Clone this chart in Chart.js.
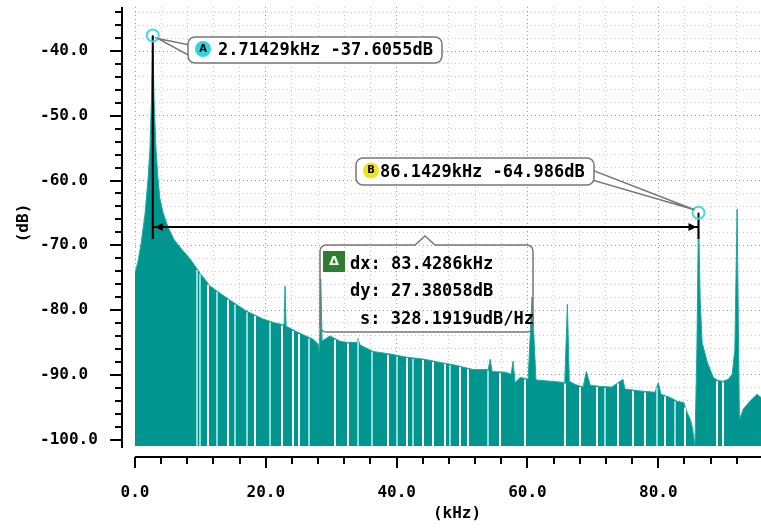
<!DOCTYPE html>
<html>
<head>
<meta charset="utf-8">
<script src="https://cdn.jsdelivr.net/npm/chart.js@4.4.1/dist/chart.umd.min.js"></script>
<style>
  html, body { margin: 0; padding: 0; background: #fff; }
</style>
</head>
<body>
<canvas id="fftChart" width="761" height="529"></canvas>
<script>
// spectrum envelope (kHz / dB)
const freqKHz = [0, 0.46, 0.92, 1.53, 1.99, 2.29, 2.52, 2.71429, 2.91, 3.21, 3.52, 3.82, 4.28, 5.05, 5.96, 6.88,
  8.41, 9.94, 11.47, 13.0, 15.0, 17.1, 19.6, 21.4, 22.8, 22.94, 23.1, 24.8, 27.2, 28.0, 28.2, 28.4, 28.6, 29.8,
  31.3, 32.4, 33.9, 34.1, 34.4, 36.4, 39.0, 41.6, 44.3, 46.6, 48.9, 51.7, 54.0, 54.3, 54.6, 56.6, 57.5, 57.8,
  58.1, 58.9, 60.1, 60.7, 61.3, 63.5, 65.7, 66.1, 66.4, 67.3, 68.5, 69.0, 69.6, 71.1, 72.9, 74.6, 74.9, 77.2,
  79.5, 80.0, 80.4, 81.8, 82.9, 83.9, 84.4, 84.9, 85.2, 85.6, 85.9, 86.1429, 86.4, 86.7, 87.5, 88.4, 89.1, 89.9,
  90.7, 91.3, 91.7, 92.05, 92.4, 93.0, 94.0, 95.1, 95.7];
const levelDB = [-74.3, -72.5, -69.8, -65.2, -59.8, -55.1, -47.4, -37.6055, -47.4, -55.1, -59.8, -62.9, -64.9, -67.2, -69.1, -70.3,
  -72.1, -74.3, -76.3, -77.4, -78.8, -80.2, -81.4, -82.0, -82.3, -76.3, -82.5, -83.4, -84.5, -85.3, -86.5, -75.2, -84.8, -84.0,
  -84.8, -85.0, -85.0, -84.4, -85.4, -86.4, -86.8, -87.3, -87.6, -88.1, -88.5, -89.2, -89.2, -87.6, -89.5, -89.6, -89.9, -87.9,
  -91.2, -90.4, -90.7, -78.0, -90.8, -91.0, -91.2, -79.1, -91.0, -91.5, -91.9, -89.5, -91.6, -91.8, -91.9, -90.7, -92.2, -92.5,
  -92.7, -91.2, -93.0, -93.5, -94.1, -94.3, -95.8, -96.9, -98.1, -101, -86.0, -64.986, -78.3, -85.0, -88.1, -90.4, -90.9, -91.0,
  -90.7, -89.9, -86.1, -64.4, -96.9, -95.3, -94.1, -93.0, -93.5];

// thin gaps in the filled trace (white and pale ones), kHz
const whiteGapKHz = [11.2, 14.2, 18.3, 22.5, 24.2, 25.1, 30.6, 32.6, 38.7, 41.6, 44.0, 45.6, 47.4, 49.7, 50.9, 55.8,
  59.6, 65.7, 68.0, 70.6, 73.9, 76.1, 78.0, 81.0, 84.1, 89.0, 89.9];
const paleGapKHz = [9.5, 9.9, 12.5, 15.3, 17.1, 20.6, 26.6, 34.1, 36.2, 40.1, 42.5, 48.2, 54.0, 71.9, 79.8, 82.6];

// markers A and B
const markerNames = ['A', 'B'];
const markerFreq = [2.71429, 86.1429];
const markerLevel = [-37.6055, -64.986];
const markerText = ['2.71429kHz -37.6055dB', '86.1429kHz -64.986dB'];
const deltaText = ['dx: 83.4286kHz', 'dy: 27.38058dB', 's: 328.1919udB/Hz'];

// axes
const xRange = [0, 95.7];
const yRange = [-101, -33.2];
const xStep = 4, xLabelStep = 20;
const yStep = 2, yLabelStep = 10;

const teal = '#00968f';
const monoFont = 'DejaVu Sans Mono';

// level of the trace at f (for the gap lines only)
const levelAt = f => {
  for (let i = 1; i < freqKHz.length; i++) {
    if (f <= freqKHz[i]) {
      const t = (f - freqKHz[i - 1]) / (freqKHz[i] - freqKHz[i - 1]);
      return levelDB[i - 1] + t * (levelDB[i] - levelDB[i - 1]);
    }
  }
  return levelDB[levelDB.length - 1];
};

const gaps = {
  id: 'gaps',
  afterDatasetsDraw(chart) {
    const { ctx, chartArea: a, scales: { x, y } } = chart;
    ctx.save();
    ctx.lineWidth = 2;
    [[whiteGapKHz, '#ffffff'], [paleGapKHz, '#8fdcd6']].forEach(([list, col]) => {
      ctx.strokeStyle = col;
      list.forEach(f => {
        const px = Math.round(x.getPixelForValue(f));
        ctx.beginPath();
        ctx.moveTo(px, a.bottom);
        ctx.lineTo(px, y.getPixelForValue(levelAt(f)) + 1);
        ctx.stroke();
      });
    });
    ctx.restore();
  }
};

const overlay = {
  id: 'overlay',
  afterDraw(chart) {
    const { ctx, chartArea: area, scales: { x, y } } = chart;
    const yAxisX = area.left - 13, xAxisY = area.bottom + 11;
    ctx.save();

    // offset axis lines + ticks
    ctx.strokeStyle = '#000';
    ctx.lineWidth = 2;
    ctx.beginPath();
    ctx.moveTo(yAxisX, area.top);
    ctx.lineTo(yAxisX, area.bottom + 2);
    ctx.moveTo(area.left, xAxisY);
    ctx.lineTo(area.right, xAxisY);
    ctx.stroke();
    y.ticks.forEach(t => {
      const py = Math.round(y.getPixelForValue(t.value));
      const len = t.value % yLabelStep === 0 ? 12 : 7;
      ctx.beginPath(); ctx.moveTo(yAxisX - len, py); ctx.lineTo(yAxisX, py); ctx.stroke();
    });
    x.ticks.forEach(t => {
      const px = Math.round(x.getPixelForValue(t.value));
      const len = t.value % xLabelStep === 0 ? 11 : 7;
      ctx.beginPath(); ctx.moveTo(px, xAxisY); ctx.lineTo(px, xAxisY + len); ctx.stroke();
    });

    // axis titles
    ctx.fillStyle = '#000';
    ctx.font = 'bold 16px "' + monoFont + '"';
    ctx.textAlign = 'center';
    ctx.textBaseline = 'middle';
    ctx.fillText('(kHz)', 457, 514);
    ctx.save();
    ctx.translate(24, 223);
    ctx.rotate(-Math.PI / 2);
    ctx.fillText('(dB)', 0, 0);
    ctx.restore();

    // marker positions
    const mx = markerFreq.map(f => x.getPixelForValue(f));
    const my = markerLevel.map(v => y.getPixelForValue(v));
    const lineY = Math.round(y.getPixelForValue(-67.2));

    // vertical marker lines + delta line
    ctx.strokeStyle = '#000';
    ctx.lineWidth = 2;
    ctx.beginPath();
    ctx.moveTo(mx[0], my[0]); ctx.lineTo(mx[0], lineY + 12);
    ctx.moveTo(mx[1], my[1]); ctx.lineTo(mx[1], lineY + 12);
    ctx.moveTo(mx[0], lineY); ctx.lineTo(mx[1], lineY);
    ctx.stroke();
    ctx.fillStyle = '#000';
    ctx.beginPath();
    ctx.moveTo(mx[0] + 2, lineY); ctx.lineTo(mx[0] + 10, lineY - 4); ctx.lineTo(mx[0] + 10, lineY + 4);
    ctx.closePath();
    ctx.moveTo(mx[1] - 2, lineY); ctx.lineTo(mx[1] - 10, lineY - 4); ctx.lineTo(mx[1] - 10, lineY + 4);
    ctx.closePath();
    ctx.fill();

    // marker circles
    ctx.strokeStyle = '#40dce6';
    ctx.lineWidth = 2;
    for (let i = 0; i < mx.length; i++) {
      ctx.beginPath(); ctx.arc(mx[i], my[i], 6, 0, Math.PI * 2); ctx.stroke();
    }

    // callout boxes for A and B
    const boxes = [
      { x0: 188, y0: 37, w: 254, h: 26, tail: [[mx[0] + 5, my[0] + 3], [190, 45], [190, 56]], icon: '#2fd4e0', textX: 218 },
      { x0: 356, y0: 158, w: 238, h: 27, tail: [[mx[1] - 4, my[1] - 3], [592, 170], [592, 180]], icon: '#f2e41c', textX: 380 }
    ];
    boxes.forEach((b, i) => {
      ctx.fillStyle = '#fff';
      ctx.strokeStyle = '#777';
      ctx.lineWidth = 1.5;
      ctx.beginPath();
      ctx.moveTo(b.tail[0][0], b.tail[0][1]);
      ctx.lineTo(b.tail[1][0], b.tail[1][1]);
      ctx.lineTo(b.tail[2][0], b.tail[2][1]);
      ctx.closePath();
      ctx.fill(); ctx.stroke();
      ctx.beginPath();
      ctx.roundRect(b.x0, b.y0, b.w, b.h, 7);
      ctx.fill(); ctx.stroke();
      const cy = b.y0 + b.h / 2;
      ctx.fillStyle = b.icon;
      ctx.beginPath(); ctx.arc(b.x0 + 15, cy - 1, 8, 0, Math.PI * 2); ctx.fill();
      ctx.fillStyle = '#000';
      ctx.font = 'bold 10px "DejaVu Sans"';
      ctx.textAlign = 'center';
      ctx.fillText(markerNames[i], b.x0 + 15, cy - 1);
      ctx.font = 'bold 17px "' + monoFont + '"';
      ctx.textAlign = 'left';
      ctx.fillText(markerText[i], b.textX, cy + 1);
    });

    // delta box with notch pointing to the delta line
    const dx0 = 320, dy0 = 245, dx1 = 533, dy1 = 332, r = 6, nx = 425;
    ctx.strokeStyle = '#777';
    ctx.lineWidth = 1.5;
    ctx.beginPath();
    ctx.moveTo(dx0 + r, dy0);
    ctx.lineTo(nx - 10, dy0); ctx.lineTo(nx, lineY + 9); ctx.lineTo(nx + 10, dy0);
    ctx.arcTo(dx1, dy0, dx1, dy1, r);
    ctx.arcTo(dx1, dy1, dx0, dy1, r);
    ctx.arcTo(dx0, dy1, dx0, dy0, r);
    ctx.arcTo(dx0, dy0, dx1, dy0, r);
    ctx.closePath();
    ctx.stroke();
    ctx.fillStyle = '#2e7d32';
    ctx.fillRect(dx0 + 3, dy0 + 6, 22, 21);
    ctx.fillStyle = '#e8ffe8';
    ctx.font = 'bold 13px "DejaVu Sans"';
    ctx.textAlign = 'center';
    ctx.fillText('Δ', dx0 + 14, dy0 + 17);
    ctx.fillStyle = '#000';
    ctx.font = 'bold 17px "' + monoFont + '"';
    ctx.textAlign = 'left';
    ctx.fillText(deltaText[0], 350, 265);
    ctx.fillText(deltaText[1], 350, 292);
    ctx.fillText(deltaText[2], 360, 320);

    ctx.restore();
  }
};

new Chart(document.getElementById('fftChart'), {
  type: 'line',
  data: {
    datasets: [{
      label: 'FFT',
      data: freqKHz.map((f, i) => ({ x: f, y: levelDB[i] })),
      borderColor: '#1aa9a2',
      backgroundColor: teal,
      borderWidth: 1,
      pointRadius: 0,
      tension: 0,
      fill: 'start'
    }]
  },
  options: {
    responsive: false,
    animation: false,
    layout: { padding: { left: 40, top: 7, right: 0, bottom: 0 } },
    plugins: { legend: { display: false }, tooltip: { enabled: false } },
    scales: {
      x: {
        type: 'linear',
        min: xRange[0],
        max: xRange[1],
        afterFit: s => { s.height = 83; s.paddingLeft = 0; s.paddingRight = 0; },
        border: { display: false, dash: [1, 3] },
        grid: {
          drawTicks: false,
          lineWidth: 1,
          color: c => (c.tick && c.tick.value % xLabelStep === 0) ? '#9a9a9a' : '#c8c8c8'
        },
        ticks: {
          stepSize: xStep,
          autoSkip: false,
          maxRotation: 0,
          includeBounds: false,
          padding: 37,
          color: '#000',
          font: { family: monoFont, size: 16, weight: 'bold' },
          callback: v => v % xLabelStep === 0 ? v.toFixed(1) : ''
        }
      },
      y: {
        min: yRange[0],
        max: yRange[1],
        afterFit: s => { s.width = 95; s.paddingTop = 0; s.paddingBottom = 0; },
        border: { display: false, dash: [1, 3] },
        grid: {
          drawTicks: false,
          lineWidth: 1,
          color: c => (c.tick && c.tick.value % yLabelStep === 0) ? '#9a9a9a' : '#c8c8c8'
        },
        ticks: {
          stepSize: yStep,
          autoSkip: false,
          includeBounds: false,
          crossAlign: 'far',
          color: '#000',
          font: { family: monoFont, size: 16, weight: 'bold' },
          callback: v => v % yLabelStep === 0 ? v.toFixed(1) : ''
        }
      }
    }
  },
  plugins: [gaps, overlay]
});
</script>
</body>
</html>
